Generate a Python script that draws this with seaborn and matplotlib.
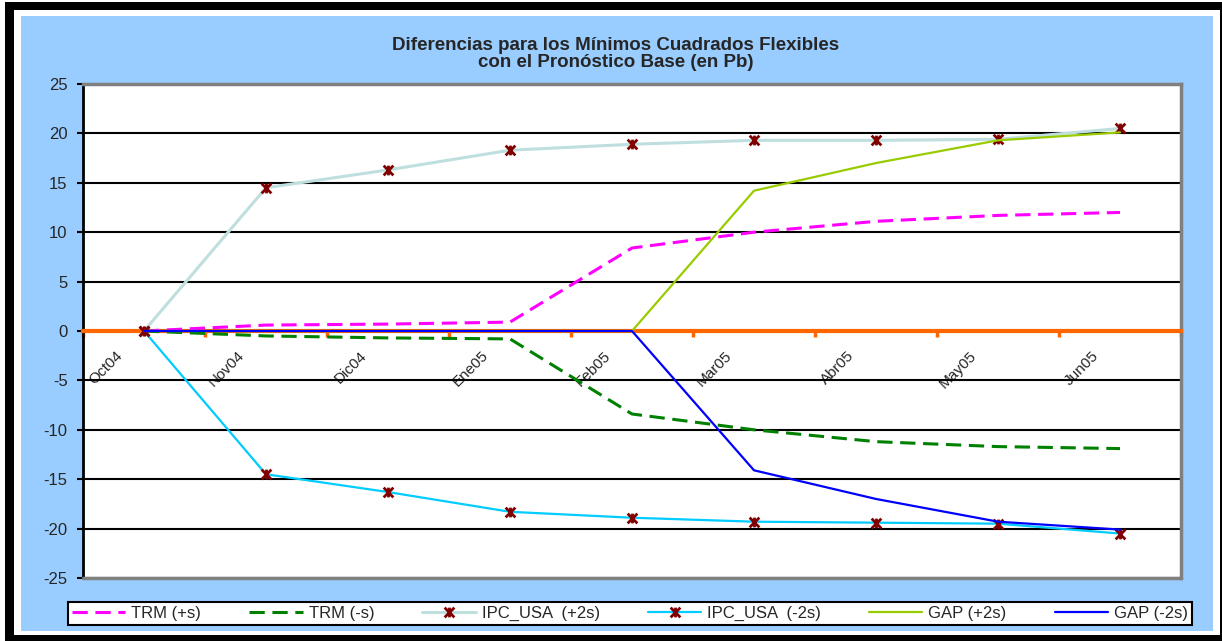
import matplotlib
matplotlib.use('Agg')
import matplotlib.pyplot as plt
from matplotlib.patches import Rectangle
from matplotlib.path import Path
from matplotlib.transforms import ScaledTranslation
import numpy as np
import pandas as pd
import seaborn as sns

### Diferencias de los minimos cuadrados flexibles vs pronostico base

meses = ['Oct04', 'Nov04', 'Dic04', 'Ene05', 'Feb05', 'Mar05', 'Abr05', 'May05', 'Jun05']

trm_mas = [0, 0.6, 0.7, 0.9, 8.4, 10.0, 11.1, 11.7, 12.0]
trm_menos = [0, -0.5, -0.7, -0.8, -8.4, -10.0, -11.2, -11.7, -11.9]
ipc_mas = [0, 14.5, 16.3, 18.3, 18.9, 19.3, 19.3, 19.4, 20.5]
ipc_menos = [0, -14.5, -16.3, -18.3, -18.9, -19.3, -19.4, -19.5, -20.5]
gap_mas = [0, 0, 0, 0, 0, 14.2, 17.0, 19.3, 20.1]
gap_menos = [0, 0, 0, 0, 0, -14.1, -17.0, -19.3, -20.1]

nombres = ['TRM (+s)', 'TRM (-s)', 'IPC_USA  (+2s)', 'IPC_USA  (-2s)', 'GAP (+2s)', 'GAP (-2s)']
valores = [trm_mas, trm_menos, ipc_mas, ipc_menos, gap_mas, gap_menos]

W, H = 1222, 641

# marcador tipo "estrella" de excel: una X con una linea vertical
estrella = Path([(-1, -1), (1, 1), (-1, 1), (1, -1), (0, -1), (0, 1)],
                [Path.MOVETO, Path.LINETO, Path.MOVETO, Path.LINETO, Path.MOVETO, Path.LINETO])

estilos = {
    'TRM (+s)': dict(color='#FF00FF', lw=2.2, linestyle=(0, (5, 2.5))),
    'TRM (-s)': dict(color='#008000', lw=2.2, linestyle=(0, (5, 2.5))),
    'IPC_USA  (+2s)': dict(color='#BFDFDF', lw=2.2, marker=estrella, ms=7,
                           mec='#800000', mew=2),
    'IPC_USA  (-2s)': dict(color='#00CCFF', lw=1.6, marker=estrella, ms=7,
                           mec='#800000', mew=2),
    'GAP (+2s)': dict(color='#99CC00', lw=1.6),
    'GAP (-2s)': dict(color='#0000FF', lw=1.6),
}


def caja(fig, x0, y0, x1, y1, color):
    """ rectangulo en pixeles (origen arriba a la izquierda) """
    fig.add_artist(Rectangle((x0 / W, 1 - y1 / H), (x1 - x0) / W, (y1 - y0) / H,
                             transform=fig.transFigure, facecolor=color,
                             edgecolor='none', zorder=-10))


def graficar():
    sns.set_style('white')
    plt.rcParams['font.family'] = ['Liberation Sans', 'DejaVu Sans']
    plt.rcParams['axes.unicode_minus'] = False

    filas = []
    for nombre, serie in zip(nombres, valores):
        for i, v in enumerate(serie):
            filas.append({'serie': nombre, 'pos': i, 'mes': meses[i], 'valor': v})
    datos = pd.DataFrame(filas)

    fig = plt.figure(figsize=(W / 100, H / 100), dpi=100)
    fig.patch.set_facecolor('white')
    # marco negro, blanco y fondo azul
    caja(fig, 5, 2, W + 10, H + 10, 'black')
    caja(fig, 14, 10, 1220, 635, 'white')
    caja(fig, 21, 16, 1213, 631, '#99CCFF')

    ax = fig.add_axes([83 / W, 1 - 578 / H, 1098 / W, 494 / H])
    ax.set_facecolor('white')

    for nombre in nombres:
        sub = datos[datos['serie'] == nombre]
        sns.lineplot(data=sub, x='pos', y='valor', ax=ax, label=nombre,
                     zorder=3, **estilos[nombre])

    ax.set_xlim(-0.5, 8.5)
    ax.set_ylim(-25, 25)
    ax.set_yticks(range(-25, 30, 5))
    ax.yaxis.grid(True, color='black', lw=1.5)
    ax.xaxis.grid(False)
    ax.set_xlabel('')
    ax.set_ylabel('')

    # eje x naranja en cero
    ax.spines['bottom'].set_position(('data', 0))
    ax.spines['bottom'].set_color('#FF6600')
    ax.spines['bottom'].set_linewidth(3)
    ax.spines['left'].set_color('black')
    ax.spines['left'].set_linewidth(2)
    for lado in ['top', 'right']:
        ax.spines[lado].set_color('#808080')
        ax.spines[lado].set_linewidth(2.5)
    ax.axhline(-25, color='#808080', lw=2.5, zorder=2.6, clip_on=False)

    ax.set_xticks(range(len(meses)))
    ax.set_xticklabels(meses, rotation=45, ha='right', va='center',
                       rotation_mode='anchor', fontsize=11)
    ax.set_xticks(np.arange(-0.5, len(meses)), minor=True)
    ax.tick_params(axis='x', which='major', length=0, pad=16, bottom=True)
    ax.tick_params(axis='x', which='minor', length=4, width=2.5, bottom=True,
                   color='#FF6600', direction='out')
    desplazamiento = ScaledTranslation(-0.24, 0, fig.dpi_scale_trans)
    for etiqueta in ax.get_xticklabels():
        etiqueta.set_transform(etiqueta.get_transform() + desplazamiento)

    ax.tick_params(axis='y', which='major', length=4, width=1.5, color='black',
                   direction='out', labelsize=12, pad=7, left=True)

    fig.text(616 / W, 1 - 54 / H,
             'Diferencias para los Mínimos Cuadrados Flexibles\ncon el Pronóstico Base (en Pb)',
             ha='center', va='center', fontweight='bold', fontsize=13.5,
             linespacing=1.05)

    leg = ax.legend(loc='center', bbox_to_anchor=(68 / W, 1 - 627 / H, 1124 / W, 27 / H),
                    bbox_transform=fig.transFigure, ncol=6, mode='expand',
                    frameon=True, fancybox=False, edgecolor='black', framealpha=1,
                    fontsize=12, handlelength=3.2, handletextpad=0.35,
                    borderaxespad=0, borderpad=0.25)
    leg.get_frame().set_linewidth(1.5)

    fig.savefig('out.png', dpi=100)


if __name__ == "__main__":
    graficar()
